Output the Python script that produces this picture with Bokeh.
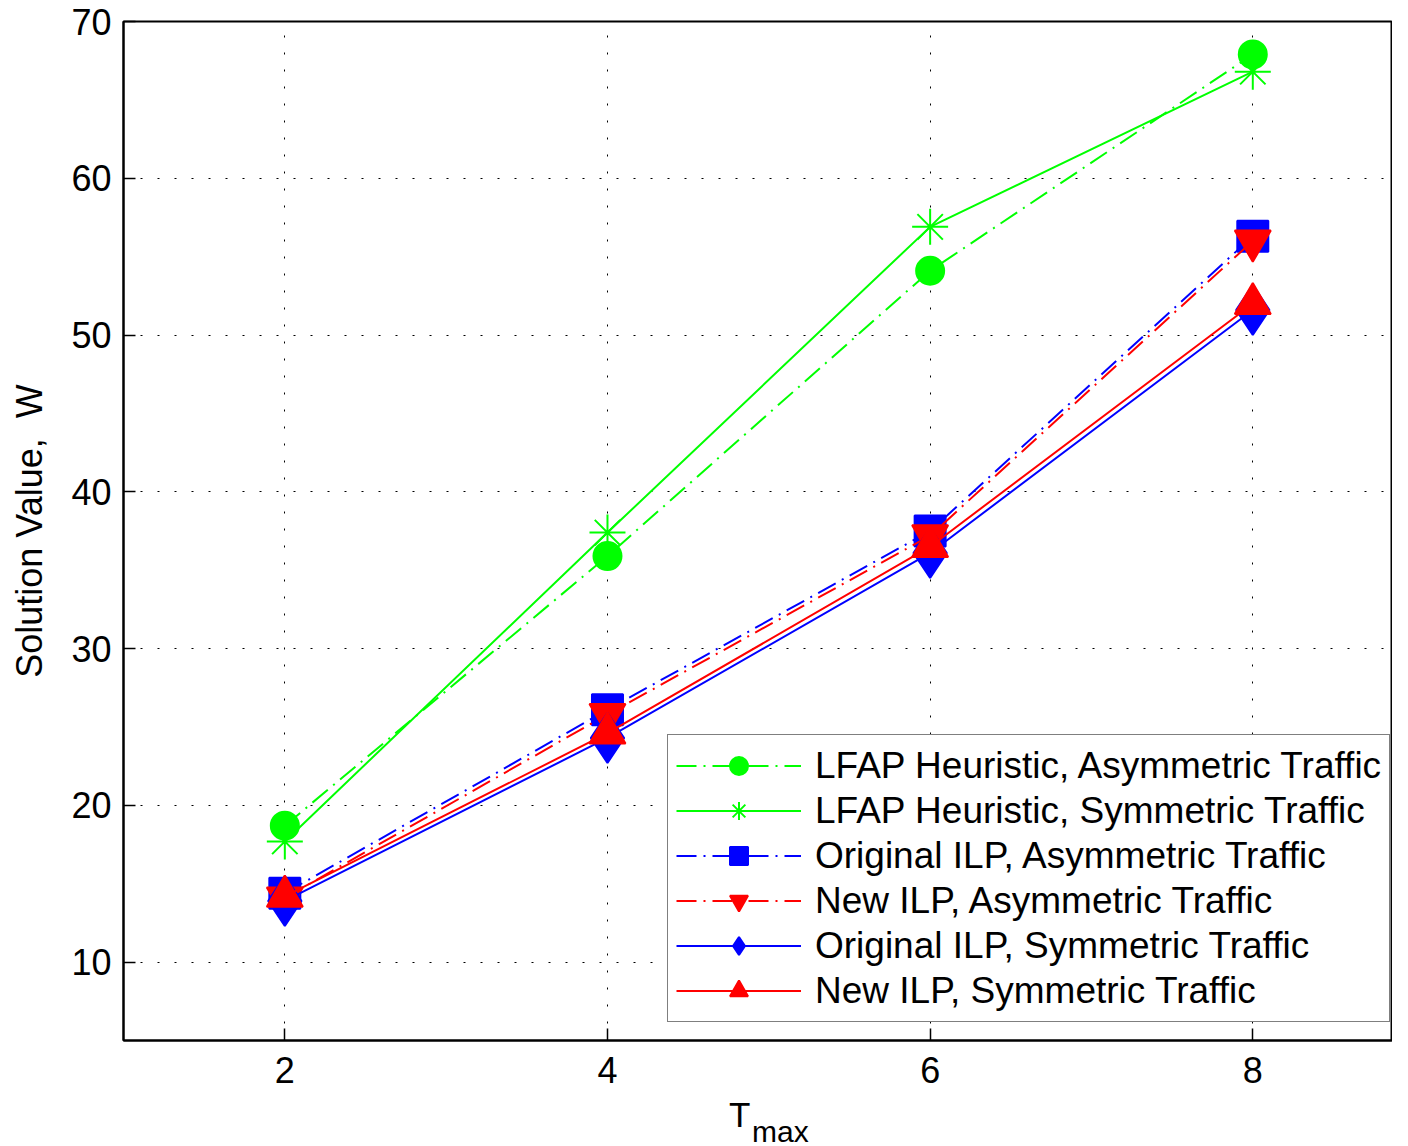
from bokeh.plotting import figure
from bokeh.layouts import column
from bokeh.models import Legend, LegendItem, FixedTicker, Range1d, Div
from bokeh.embed import file_html
from bokeh.resources import INLINE

# ---- data ----
t_max = [2, 4, 6, 8]
lfap_asym = [18.7, 35.9, 54.1, 67.9]
lfap_sym = [17.7, 37.4, 56.9, 66.8]
orig_asym = [14.4, 26.1, 37.5, 56.3]
new_asym = [14.1, 25.8, 37.2, 56.0]
orig_sym = [13.9, 24.3, 36.1, 51.6]
new_sym = [14.2, 24.6, 36.5, 52.0]

series_names = [
    "LFAP Heuristic, Asymmetric Traffic",
    "LFAP Heuristic, Symmetric Traffic",
    "Original ILP, Asymmetric Traffic",
    "New ILP, Asymmetric Traffic",
    "Original ILP, Symmetric Traffic",
    "New ILP, Symmetric Traffic",
]
x_ticks = [2, 4, 6, 8]
y_ticks = [10, 20, 30, 40, 50, 60, 70]
y_label = "Solution Value,\u00a0 W"
x_label_main = "T"
x_label_sub = "max"

FONT = "Liberation Sans"
GREEN, BLUE, RED = "#00ff00", "#0000ff", "#ff0000"
DASHDOT = "20 7 2 7"

p = figure(frame_width=1269, frame_height=1019,
           min_border_left=123, min_border_top=21, min_border_right=0, min_border_bottom=58,
           x_range=Range1d(1, 8.866), y_range=Range1d(5, 70),
           output_backend="svg", toolbar_location=None)

p.background_fill_color = "white"
p.border_fill_color = "white"
p.outline_line_color = "black"
p.outline_line_width = 2

for ax in (p.xaxis[0], p.yaxis[0]):
    ax.axis_line_width = 2
    ax.axis_line_color = "black"
    ax.major_tick_in = 12
    ax.major_tick_out = 0
    ax.major_tick_line_width = 1.5
    ax.major_tick_line_color = "black"
    ax.minor_tick_line_color = None
    ax.major_label_text_font = FONT
    ax.major_label_text_font_size = "36px"
    ax.major_label_text_color = "black"
p.yaxis.major_label_standoff = 12
p.xaxis.major_label_standoff = 16

p.xaxis.ticker = FixedTicker(ticks=x_ticks)
p.yaxis.ticker = FixedTicker(ticks=y_ticks)
p.yaxis.axis_label = y_label
p.yaxis.axis_label_text_font = FONT
p.yaxis.axis_label_text_font_size = "36px"
p.yaxis.axis_label_text_font_style = "normal"
p.yaxis.axis_label_text_color = "black"
p.yaxis.axis_label_standoff = 18

for g in (p.xgrid[0], p.ygrid[0]):
    g.grid_line_color = "black"
    g.grid_line_dash = "2 15"
    g.grid_line_width = 1
p.xgrid.ticker = FixedTicker(ticks=x_ticks)
p.ygrid.ticker = FixedTicker(ticks=y_ticks)

styles = [
    (lfap_asym, GREEN, DASHDOT, "circle", 28),
    (lfap_sym, GREEN, "solid", "asterisk", 36),
    (orig_asym, BLUE, DASHDOT, "square", 31),
    (new_asym, RED, DASHDOT, "inverted_triangle", 36),
    (orig_sym, BLUE, "solid", "diamond", 50),
    (new_sym, RED, "solid", "triangle", 36),
]

items = []
for name, (vals, color, dash, marker, size) in zip(series_names, styles):
    lr = p.line(t_max, vals, line_color=color, line_width=2, line_dash=dash)
    sr = p.scatter(t_max, vals, marker=marker, size=size, fill_color=color,
                   line_color=color, line_width=2)
    items.append(LegendItem(label=name, renderers=[lr, sr]))

legend = Legend(items=items, location=(544, 18))
legend.label_text_font = FONT
legend.label_text_font_size = "37px"
legend.label_text_color = "black"
legend.glyph_width = 125
legend.glyph_height = 45
legend.label_height = 45
legend.label_standoff = 14
legend.padding = 8
legend.spacing = 0
legend.margin = 0
legend.border_line_color = "black"
legend.border_line_width = 1.5
legend.background_fill_color = "white"
legend.background_fill_alpha = 1
p.add_layout(legend)

xlabel_html = (
    '<div style="position:relative; width:1392px; height:40px; '
    "font-family:'Liberation Sans'; color:black; line-height:0; white-space:nowrap;\">"
    '<span style="position:absolute; left:724px; top:12px; font-size:35px; line-height:0;">%s</span>'
    '<span style="position:absolute; left:747px; top:29px; font-size:30px; line-height:0;">%s</span>'
    '</div>' % (x_label_main, x_label_sub)
)
xlabel = Div(text=xlabel_html, width=1392, height=40, styles={"overflow": "visible"})

layout = column(p, xlabel, spacing=0)

open("out.html", "w").write(file_html(layout, INLINE))
